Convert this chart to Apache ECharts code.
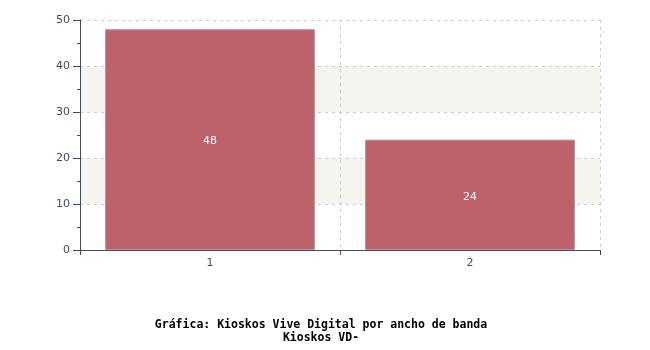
<!DOCTYPE html>
<html><head><meta charset="utf-8">
<script src="https://cdn.jsdelivr.net/npm/echarts@6/dist/echarts.min.js"></script>
<style>html,body{margin:0;padding:0;background:#fff}#c{width:650px;height:350px}</style>
</head><body><div id="c"></div>
<script>
var categories = ['1', '2'];
var values = [48, 24];
var titleLines = ['Gráfica: Kioskos Vive Digital por ancho de banda', 'Kioskos VD-'];

var axisColor = '#3d4a6b';
var chart = echarts.init(document.getElementById('c'), null, {renderer: 'canvas'});
chart.setOption({
  animation: false,
  grid: {left: 80, right: 50, top: 20, bottom: 100},
  xAxis: {
    type: 'category', data: categories,
    axisLine: {lineStyle: {color: axisColor, width: 1}},
    axisTick: {show: true, length: 5, lineStyle: {color: axisColor}},
    axisLabel: {color: axisColor, fontFamily: 'DejaVu Sans', fontSize: 11, margin: 8},
    splitLine: {show: true, lineStyle: {color: '#cccccc', type: [3, 4]}}
  },
  yAxis: {
    type: 'value', min: 0, max: 50, interval: 10,
    axisLine: {show: true, lineStyle: {color: axisColor, width: 1}},
    axisTick: {show: true, length: 7, lineStyle: {color: axisColor}},
    minorTick: {show: true, splitNumber: 2, length: 3, lineStyle: {color: axisColor}},
    axisLabel: {color: axisColor, fontFamily: 'DejaVu Sans', fontSize: 11, margin: 10},
    splitLine: {show: true, lineStyle: {color: '#cccccc', type: [3, 4]}},
    splitArea: {show: true, areaStyle: {color: ['rgba(255,255,255,0)', '#f5f5f0']}}
  },
  series: [{
    type: 'bar', data: values, barWidth: 210,
    itemStyle: {color: '#bd626b', borderColor: '#b89a9d', borderWidth: 1},
    label: {show: true, position: 'inside', offset: [0, 2], color: '#ffffff', fontFamily: 'DejaVu Sans', fontSize: 11}
  }],
  graphic: [{
    type: 'text', x: 321, y: 319,
    style: {
      text: titleLines.join('\n'), textAlign: 'center',
      font: 'bold 11.5px "DejaVu Sans Mono"', fill: '#000', lineHeight: 13
    }
  }]
});
</script></body></html>
